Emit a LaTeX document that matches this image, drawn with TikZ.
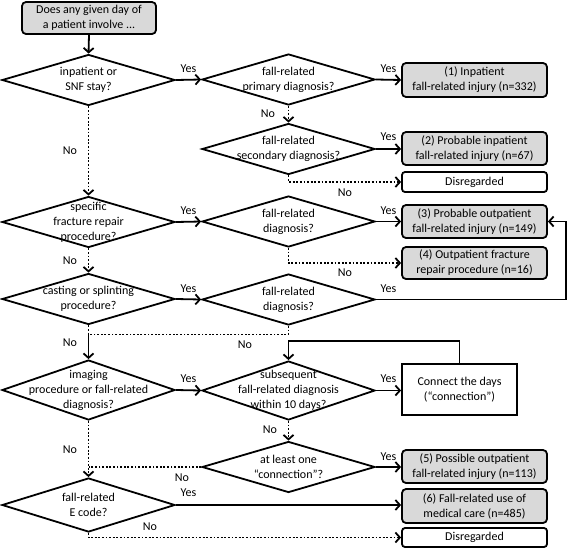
\documentclass[tikz,border=0pt]{standalone}
\usepackage{fontspec}
\setmainfont{Carlito}
\usetikzlibrary{shapes.geometric,arrows.meta,calc}
\definecolor{boxgray}{HTML}{D9D9D9}
\begin{document}
\begin{tikzpicture}[x=1pt,y=-1pt,
  font=\fontsize{12}{15}\selectfont,
  line width=1.8pt,
  >={Straight Barb[length=4.5pt,width=10pt]},
  dia/.style={diamond, draw, line width=1.8pt, minimum width=173pt, minimum height=51pt, inner sep=0pt},
  dtext/.style={align=center, inner sep=0pt},
  gbox/.style={draw, rounded corners=4pt, fill=boxgray, line width=1.8pt, minimum width=145pt, minimum height=34pt, align=center, inner sep=0pt},
  wbox/.style={draw, rounded corners=3pt, line width=1.8pt, minimum width=145pt, minimum height=20pt, align=center, inner sep=0pt},
  lbl/.style={inner sep=0pt},
  arr/.style={->},
  dots/.style={dash pattern=on 1.8pt off 1.8pt},
  darr/.style={->, dash pattern=on 1.8pt off 1.8pt},
]
\useasboundingbox (0,0) rectangle (567,549);

% start
\node[gbox, minimum width=134pt, minimum height=32pt] (start) at (89,18) {Does any given day of\\a patient involve ...};

% diamonds
\node[dia, label={[dtext]center:{inpatient or\\SNF stay?}}] (d1) at (88.5,80) {};
\node[dia, label={[dtext]center:{fall-related\\primary diagnosis?}}] (d2) at (288.5,79.5) {};
\node[dia, label={[dtext]center:{fall-related\\secondary diagnosis?}}] (d3) at (288.5,149) {};
\node[dia, label={[dtext]center:{specific\\fracture repair\\procedure?}}] (d4) at (88.5,222) {};
\node[dia, label={[dtext]center:{fall-related\\diagnosis?}}] (d5) at (288.5,221.5) {};
\node[dia, label={[dtext]center:{casting or splinting\\procedure?}}] (d6) at (88.5,299) {};
\node[dia, label={[dtext]center:{fall-related\\diagnosis?}}] (d7) at (288.5,299.5) {};
\node[dia, minimum height=60pt, label={[dtext]center:{imaging\\procedure or fall-related\\diagnosis?}}] (d8) at (88.5,390) {};
\node[dia, minimum height=59pt, label={[dtext]center:{subsequent\\fall-related diagnosis\\within 10 days?}}] (d9) at (288.5,390.5) {};
\node[dia, label={[dtext]center:{at least one\\“connection”?}}] (d10) at (288.5,467) {};
\node[dia, minimum height=54pt, label={[dtext]center:{fall-related\\E code?}}] (d11) at (88.5,505) {};

% outcome boxes
\node[gbox] (b1) at (474.5,80) {(1) Inpatient\\fall-related injury (n=332)};
\node[gbox, minimum height=33pt] (b2) at (474.5,148.5) {(2) Probable inpatient\\fall-related injury (n=67)};
\node[wbox] (dis1) at (474.5,182) {Disregarded};
\node[gbox, minimum height=33pt] (b3) at (474.5,221.5) {(3) Probable outpatient\\fall-related injury (n=149)};
\node[gbox, minimum height=32pt] (b4) at (474.5,263) {(4) Outpatient fracture\\repair procedure (n=16)};
\node[draw, line width=1.8pt, minimum width=115pt, minimum height=51pt, align=center, inner sep=0pt] (conn) at (459.5,389.5) {Connect the days\\(“connection”)};
\node[gbox, minimum height=33pt] (b5) at (474.5,466.5) {(5) Possible outpatient\\fall-related injury (n=113)};
\node[gbox] (b6) at (474.5,506) {(6) Fall-related use of\\medical care (n=485)};
\node[wbox, minimum height=19pt] (dis2) at (474.5,537.5) {Disregarded};

% helper coordinates
\coordinate (r3) at ($(b3.east)+(18,0)$);
\coordinate (j1) at ($(d6.south)+(0,9)$);

% connectors
\draw[arr] (start.south) -- (d1.north);
\draw[arr] (d1.east) -- (d2.west);
\draw[arr] (d2.east) -- (b1.west);
\draw[darr] (d2.south) -- (d3.north);
\draw[arr] (d3.east) -- (d3.east -| b2.west);
\draw[darr] (d3.south) |- (dis1.west);
\draw[darr] (d1.south) -- (d4.north);
\draw[arr] (d4.east) -- (d5.west);
\draw[arr] (d5.east) -- (d5.east -| b3.west);
\draw[darr] (d5.south) |- (b4.west);
\draw[darr] (d4.south) -- (d6.north);
\draw[arr] (d6.east) -- (d7.west);
\draw[arr] (d7.east) -| (r3) -- (b3.east);
\draw[dots] (d6.south) -- (j1);
\draw[dots] (d7.south) |- (j1);
\draw[arr] (j1) -- (d8.north);
\draw[arr] (d8.east) -- (d9.west);
\draw[arr] (d9.east) -- (d9.east -| conn.west);
\draw[arr] (conn.north) -- ++(0,-22) -| (d9.north);
\draw[darr] (d9.south) -- (d10.north);
\draw[arr] (d10.east) -- (d10.east -| b5.west);
\draw[darr] (d8.south) -- (d11.north);
\draw[dots] (d10.west) -- (d10.west -| d8.south);
\draw[arr] (d11.east) -- (d11.east -| b6.west);
\draw[darr] (d11.south) |- (dis2.west);

% labels
\node[lbl] (y1) at (188.5,69) {Yes};
\node[lbl] (y2) at (388.5,69) {Yes};
\node[lbl] (y3) at (388.5,137) {Yes};
\node[lbl] (y4) at (188.5,211) {Yes};
\node[lbl] (y5) at (388.5,211) {Yes};
\node[lbl] (y6) at (188.5,289) {Yes};
\node[lbl] (y7) at (388.5,289) {Yes};
\node[lbl] (y8) at (188.5,379) {Yes};
\node[lbl] (y9) at (388.5,379) {Yes};
\node[lbl] (y10) at (388.5,457) {Yes};
\node[lbl] (y11) at (188.5,493) {Yes};

\node[lbl] (n1) at (70,151) {No};
\node[lbl] (n2) at (268,114) {No};
\node[lbl] (n3) at (345,193) {No};
\node[lbl] (n4) at (70,261) {No};
\node[lbl] (n5) at (345,273) {No};
\node[lbl] (n6) at (70,343) {No};
\node[lbl] (n7) at (245,345) {No};
\node[lbl] (n8) at (70,450) {No};
\node[lbl] (n9) at (270,430) {No};
\node[lbl] (n10) at (182,478) {No};
\node[lbl] (n11) at (150,527) {No};
\end{tikzpicture}
\end{document}
